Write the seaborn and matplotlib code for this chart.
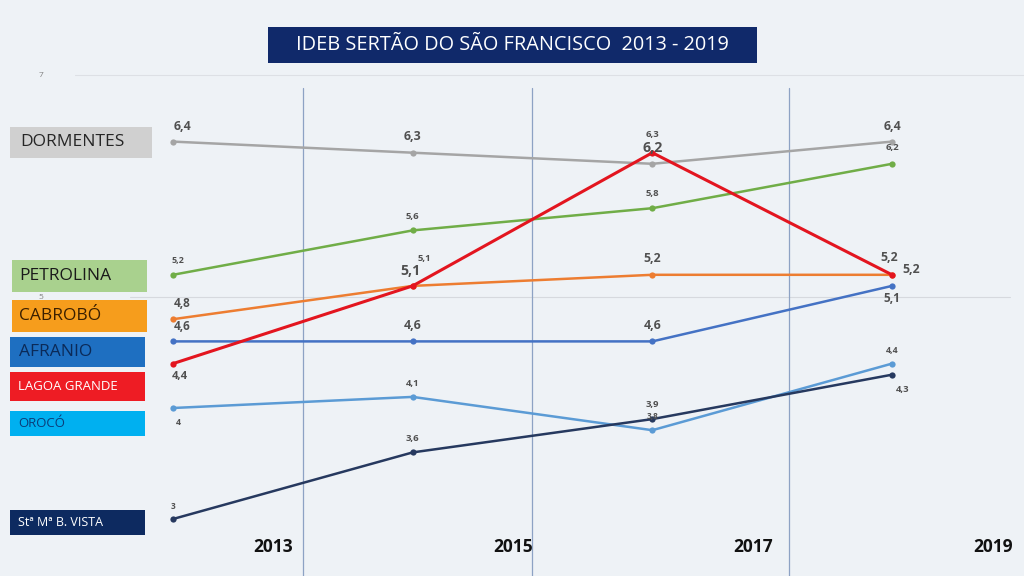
import matplotlib
matplotlib.use("Agg")
import matplotlib.pyplot as plt
from matplotlib.patches import Rectangle
import seaborn as sns
import pandas as pd

# ---------------- data ----------------
years = ["2013", "2015", "2017", "2019"]
dormentes = [6.4, 6.3, 6.2, 6.4]
petrolina = [5.2, 5.6, 5.8, 6.2]
cabrobo = [4.8, 5.1, 5.2, 5.2]
afranio = [4.6, 4.6, 4.6, 5.1]
lagoa_grande = [4.4, 5.1, 6.3, 5.2]
oroco = [4.0, 4.1, 3.8, 4.4]
sta_bvista = [3.0, 3.6, 3.9, 4.3]
# data-label texts as printed in the chart (two labels in 2017 are swapped there)
dormentes_labels = ["6,4", "6,3", "6,3", "6,4"]
lagoa_labels = ["4,4", "5,1", "6,2", "5,2"]

series_names = ["DORMENTES", "PETROLINA", "CABROBÓ", "AFRANIO",
                "LAGOA GRANDE", "OROCÓ", "Stª Mª B. VISTA"]
series_values = [dormentes, petrolina, cabrobo, afranio,
                 lagoa_grande, oroco, sta_bvista]

rows = []
for name, vals in zip(series_names, series_values):
    for i, v in enumerate(vals):
        rows.append({"escola": name, "pos": i, "ideb": v})
df = pd.DataFrame(rows)

line_colors = {
    "DORMENTES": "#a5a5a5",
    "PETROLINA": "#70ad47",
    "CABROBÓ": "#ed7d31",
    "AFRANIO": "#4472c4",
    "LAGOA GRANDE": "#e3151f",
    "OROCÓ": "#5b9bd5",
    "Stª Mª B. VISTA": "#26395f",
}
line_widths = {"LAGOA GRANDE": 2.2}

# ---------------- figure ----------------
sns.set_theme(style="white")
plt.rcParams["font.family"] = ["Open Sans", "DejaVu Sans"]
W, H = 1024, 576
fig = plt.figure(figsize=(W / 100, H / 100), dpi=100)
bg = "#eef2f6"
fig.patch.set_facecolor(bg)
ax = fig.add_axes([0, 0, 1, 1])
ax.set_facecolor(bg)

# pixel -> data mapping
x0px, dxpx = 173, 239.67
y5px, dypx = 297, 111.0
XLIM = (-x0px / dxpx, (W - x0px) / dxpx)
YLIM = (5 - (H - y5px) / dypx, 5 + y5px / dypx)
for s in ax.spines.values():
    s.set_visible(False)

def px2x(px):
    return (px - x0px) / dxpx

def py2y(py):
    return 5 + (y5px - py) / dypx

# gridlines
ax.axhline(7, xmin=75 / W, xmax=1.0, color="#dde0e5", lw=0.8, zorder=0)
ax.axhline(5, xmin=130 / W, xmax=1010 / W, color="#d6d9de", lw=0.8, zorder=0)
ax.text(px2x(41), 7.0, "7", fontsize=6, color="#808080", ha="center", va="center")
ax.text(px2x(41), 5.0, "5", fontsize=6, color="#808080", ha="center", va="center")

# vertical separators
for vx in [303, 532, 789]:
    ax.axvline(px2x(vx), ymin=0, ymax=1 - 88 / H, color="#8da2c4", lw=0.9, zorder=0)

# lines
for name in series_names:
    sub = df[df["escola"] == name]
    sns.lineplot(data=sub, x="pos", y="ideb", ax=ax, color=line_colors[name],
                 lw=line_widths.get(name, 1.8), marker="o", markersize=4.5,
                 markeredgewidth=0, sort=False, legend=False, zorder=3)
ax.set_xlabel("")
ax.set_ylabel("")
ax.set_xticks([])
ax.set_yticks([])
ax.set_xlim(*XLIM)
ax.set_ylim(*YLIM)

# data labels
label_style = {
    "DORMENTES": ([(10, 15), (0, 16), (0, 29), (0, 15)], [10.5, 10.5, 8, 10.5]),
    "PETROLINA": ([(5, 14), (0, 14), (0, 15), (0, 16)], [7.5, 8, 8, 8]),
    "CABROBÓ": ([(9, 16), (12, 27), (0, 16), (-3, 17)], [10, 8, 10.5, 10.5]),
    "AFRANIO": ([(9, 15), (0, 16), (0, 16), (0, -13)], [10, 10.5, 10.5, 10]),
    "LAGOA GRANDE": ([(7, -13), (-2, 15), (0, 5), (19, 5)], [9.5, 12, 12, 10.5]),
    "OROCÓ": ([(5, -14), (0, 13), (0, 14), (0, 13)], [7.5, 8, 7, 7.5]),
    "Stª Mª B. VISTA": ([(0, 13), (0, 14), (0, 15), (11, -15)], [7, 8, 8, 8]),
}
label_texts = {"DORMENTES": dormentes_labels, "LAGOA GRANDE": lagoa_labels}
for name, vals in zip(series_names, series_values):
    offs, sizes = label_style[name]
    texts = label_texts.get(name, [f"{v:g}".replace(".", ",") for v in vals])
    for i, v in enumerate(vals):
        ax.annotate(texts[i], (i, v), xytext=offs[i], textcoords="offset pixels",
                    ha="center", va="center", fontsize=sizes[i] * 0.85,
                    fontweight="bold", color="#505050", zorder=5)

# year labels
for i, yr in enumerate(years):
    ax.text(px2x(273 + 240 * i), py2y(547), yr, fontsize=12.5, fontweight="bold",
            color="#111111", ha="center", va="center")

# title box
fig.patches.append(Rectangle((268 / W, 1 - 63 / H), (757 - 268) / W, 36 / H,
                             transform=fig.transFigure, facecolor="#10296a",
                             edgecolor="none", zorder=10))
fig.text(512 / W, 1 - 45 / H, "IDEB SERTÃO DO SÃO FRANCISCO  2013 - 2019",
         fontsize=14.3, color="white", ha="center", va="center", zorder=11)

# colored name boxes on the left
boxes = [
    ("DORMENTES", 10, 127, 142, 31, "#d0d0d0", "#262626", 12.5, 20),
    ("PETROLINA", 12, 260, 135, 32, "#a9d18e", "#1a1a1a", 12.5, 19),
    ("CABROBÓ", 12, 300, 135, 32, "#f69d1c", "#3b1f00", 12.5, 19),
    ("AFRANIO", 10, 337, 135, 30, "#1e6fc1", "#0b2a58", 12.5, 19),
    ("LAGOA GRANDE", 10, 372, 135, 29, "#ee1c24", "#ffffff", 9.5, 18),
    ("OROCÓ", 10, 411, 135, 25, "#00b0f0", "#0b3d7a", 9.5, 18),
    ("Stª Mª B. VISTA", 10, 510, 135, 25, "#0d2a60", "#ffffff", 9, 18),
]
for text, bx, by, bw, bh, fc, tc, fs, tx in boxes:
    fig.patches.append(Rectangle((bx / W, 1 - (by + bh) / H), bw / W, bh / H,
                                 transform=fig.transFigure, facecolor=fc,
                                 edgecolor="none", zorder=10))
    fig.text(tx / W, 1 - (by + bh / 2) / H, text, fontsize=fs, color=tc,
             ha="left", va="center", zorder=11)

fig.savefig("out.png", dpi=100, facecolor=fig.get_facecolor())
